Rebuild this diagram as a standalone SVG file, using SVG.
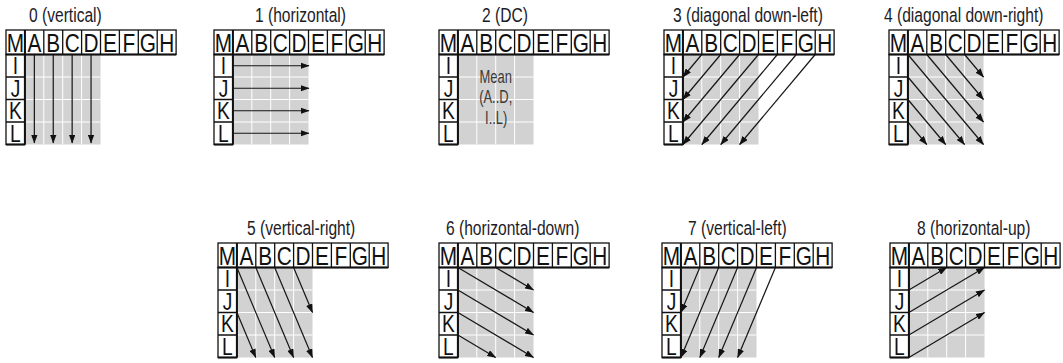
<svg xmlns="http://www.w3.org/2000/svg" width="1063" height="363" viewBox="0 0 1063 363">
<style>
.bg{fill:#fff}
.g{fill:#d2d2d2}
.wl{fill:none;stroke:#fff;stroke-width:1}
.cell{fill:#fff;stroke:#111;stroke-width:1.3}
.ln{fill:none;stroke:#111;stroke-width:1.3}
.thk{fill:none;stroke:#111;stroke-width:2}
.hd{font-family:"Liberation Sans",Arial,Helvetica,sans-serif;font-size:26px;fill:#111;text-anchor:middle}
.rl{font-family:"Liberation Sans",Arial,Helvetica,sans-serif;font-size:24px;fill:#111;text-anchor:middle}
.tt{font-family:"Liberation Sans",Arial,Helvetica,sans-serif;font-size:19.5px;fill:#1c1c28}
.mean{font-family:"Liberation Sans",Arial,Helvetica,sans-serif;font-size:18px;fill:#3a3a3a;text-anchor:middle}
.ar{fill:none;stroke:#151515;stroke-width:1.2;marker-end:url(#ah)}
</style>
<defs>
<marker id="ah" viewBox="0 0 9 6.6" refX="8.5" refY="3.3" markerWidth="9" markerHeight="6.6" markerUnits="userSpaceOnUse" orient="auto">
<path d="M0,0 L9,3.3 L0,6.6 Z" fill="#111"/>
</marker>
<g id="grid">
<rect class="g" x="18.9" y="24.5" width="75.6" height="90"/>
<path class="wl" d="M37.8 24.5V114.5M56.7 24.5V114.5M75.6 24.5V114.5M18.9 47H94.5M18.9 69.5H94.5M18.9 92H94.5"/>
<rect class="cell" x="0" y="0" width="170.1" height="24.5"/>
<rect class="cell" x="0" y="24.5" width="18.9" height="90"/>
<path class="ln" d="M18.9 0V24.5M37.8 0V24.5M56.7 0V24.5M75.6 0V24.5M94.5 0V24.5M113.4 0V24.5M132.3 0V24.5M151.2 0V24.5M0 47H18.9M0 69.5H18.9M0 92H18.9"/>
<path class="thk" d="M18.9 0V114.5M0 24.5H170.1M0 114.5H18.9"/>
</g>
</defs>
<rect class="bg" x="0" y="0" width="1063" height="363"/>

<g id="mode0" transform="translate(6,30)">
<use href="#grid"/>
<text class="tt" transform="translate(23,-8) scale(0.8 1)">0 (vertical)</text>
<text class="hd" transform="scale(0.8 1)" x="11.81 35.44 59.06 82.69 106.31 129.94 153.56 177.19 200.81" y="22">MABCDEFGH</text>
<text class="rl" transform="scale(0.8 1)" x="11.81 11.81 11.81 11.81" y="44.4 66.9 89.4 111.9">IJKL</text>
<g class="arrows">
<path class="ar" d="M28.35 24.5V113"/>
<path class="ar" d="M47.25 24.5V113"/>
<path class="ar" d="M66.15 24.5V113"/>
<path class="ar" d="M85.05 24.5V113"/>
</g>
</g>

<g id="mode1" transform="translate(214,30)">
<use href="#grid"/>
<text class="tt" transform="translate(41,-8) scale(0.8 1)">1 (horizontal)</text>
<text class="hd" transform="scale(0.8 1)" x="11.81 35.44 59.06 82.69 106.31 129.94 153.56 177.19 200.81" y="22">MABCDEFGH</text>
<text class="rl" transform="scale(0.8 1)" x="11.81 11.81 11.81 11.81" y="44.4 66.9 89.4 111.9">IJKL</text>
<g class="arrows">
<path class="ar" d="M18.9 35.75H95"/>
<path class="ar" d="M18.9 58.25H95"/>
<path class="ar" d="M18.9 80.75H95"/>
<path class="ar" d="M18.9 103.25H95"/>
</g>
</g>

<g id="mode2" transform="translate(439,30)">
<use href="#grid"/>
<text class="tt" transform="translate(43,-8) scale(0.8 1)">2 (DC)</text>
<text class="hd" transform="scale(0.8 1)" x="11.81 35.44 59.06 82.69 106.31 129.94 153.56 177.19 200.81" y="22">MABCDEFGH</text>
<text class="rl" transform="scale(0.8 1)" x="11.81 11.81 11.81 11.81" y="44.4 66.9 89.4 111.9">IJKL</text>
<text class="mean" transform="scale(0.72 1)" x="78.75" y="53.3">Mean</text>
<text class="mean" transform="scale(0.72 1)" x="78.75" y="73">(A..D,</text>
<text class="mean" transform="scale(0.72 1)" x="79.5" y="94.5">I..L)</text>
</g>

<g id="mode3" transform="translate(664,30)">
<use href="#grid"/>
<text class="tt" transform="translate(9,-8) scale(0.8 1)">3 (diagonal down-left)</text>
<text class="hd" transform="scale(0.8 1)" x="11.81 35.44 59.06 82.69 106.31 129.94 153.56 177.19 200.81" y="22">MABCDEFGH</text>
<text class="rl" transform="scale(0.8 1)" x="11.81 11.81 11.81 11.81" y="44.4 66.9 89.4 111.9">IJKL</text>
<g class="arrows">
<path class="ar" d="M37.8 24.5L18.9 47"/>
<path class="ar" d="M56.7 24.5L18.9 69.5"/>
<path class="ar" d="M75.6 24.5L18.9 92"/>
<path class="ar" d="M94.5 24.5L18.9 114.5"/>
<path class="ar" d="M113.4 24.5L37.8 114.5"/>
<path class="ar" d="M132.3 24.5L56.7 114.5"/>
<path class="ar" d="M151.2 24.5L75.6 114.5"/>
</g>
</g>

<g id="mode4" transform="translate(889,30)">
<use href="#grid"/>
<text class="tt" transform="translate(-5,-8) scale(0.8 1)">4 (diagonal down-right)</text>
<text class="hd" transform="scale(0.8 1)" x="11.81 35.44 59.06 82.69 106.31 129.94 153.56 177.19 200.81" y="22">MABCDEFGH</text>
<text class="rl" transform="scale(0.8 1)" x="11.81 11.81 11.81 11.81" y="44.4 66.9 89.4 111.9">IJKL</text>
<g class="arrows">
<path class="ar" d="M18.9 24.5L94.5 114.5"/>
<path class="ar" d="M37.8 24.5L94.5 92"/>
<path class="ar" d="M56.7 24.5L94.5 69.5"/>
<path class="ar" d="M75.6 24.5L94.5 47"/>
<path class="ar" d="M18.9 47L75.6 114.5"/>
<path class="ar" d="M18.9 69.5L56.7 114.5"/>
<path class="ar" d="M18.9 92L37.8 114.5"/>
</g>
</g>

<g id="mode5" transform="translate(218,243)">
<use href="#grid"/>
<text class="tt" transform="translate(29,-8) scale(0.8 1)">5 (vertical-right)</text>
<text class="hd" transform="scale(0.8 1)" x="11.81 35.44 59.06 82.69 106.31 129.94 153.56 177.19 200.81" y="22">MABCDEFGH</text>
<text class="rl" transform="scale(0.8 1)" x="11.81 11.81 11.81 11.81" y="44.4 66.9 89.4 111.9">IJKL</text>
<g class="arrows">
<path class="ar" d="M18.9 24.5L56.7 114.5"/>
<path class="ar" d="M37.8 24.5L75.6 114.5"/>
<path class="ar" d="M56.7 24.5L94.5 114.5"/>
<path class="ar" d="M75.6 24.5L94.5 69.5"/>
<path class="ar" d="M18.9 69.5L37.8 114.5"/>
</g>
</g>

<g id="mode6" transform="translate(439,243)">
<use href="#grid"/>
<text class="tt" transform="translate(7,-8) scale(0.8 1)">6 (horizontal-down)</text>
<text class="hd" transform="scale(0.8 1)" x="11.81 35.44 59.06 82.69 106.31 129.94 153.56 177.19 200.81" y="22">MABCDEFGH</text>
<text class="rl" transform="scale(0.8 1)" x="11.81 11.81 11.81 11.81" y="44.4 66.9 89.4 111.9">IJKL</text>
<g class="arrows">
<path class="ar" d="M18.9 24.5L94.5 69.5"/>
<path class="ar" d="M56.7 24.5L94.5 47"/>
<path class="ar" d="M18.9 47L94.5 92"/>
<path class="ar" d="M18.9 69.5L94.5 114.5"/>
<path class="ar" d="M18.9 92L56.7 114.5"/>
</g>
</g>

<g id="mode7" transform="translate(662,243)">
<use href="#grid"/>
<text class="tt" transform="translate(26,-8) scale(0.8 1)">7 (vertical-left)</text>
<text class="hd" transform="scale(0.8 1)" x="11.81 35.44 59.06 82.69 106.31 129.94 153.56 177.19 200.81" y="22">MABCDEFGH</text>
<text class="rl" transform="scale(0.8 1)" x="11.81 11.81 11.81 11.81" y="44.4 66.9 89.4 111.9">IJKL</text>
<g class="arrows">
<path class="ar" d="M37.8 24.5L18.9 69.5"/>
<path class="ar" d="M56.7 24.5L18.9 114.5"/>
<path class="ar" d="M75.6 24.5L37.8 114.5"/>
<path class="ar" d="M94.5 24.5L56.7 114.5"/>
<path class="ar" d="M113.4 24.5L75.6 114.5"/>
</g>
</g>

<g id="mode8" transform="translate(890,243)">
<use href="#grid"/>
<text class="tt" transform="translate(27,-8) scale(0.8 1)">8 (horizontal-up)</text>
<text class="hd" transform="scale(0.8 1)" x="11.81 35.44 59.06 82.69 106.31 129.94 153.56 177.19 200.81" y="22">MABCDEFGH</text>
<text class="rl" transform="scale(0.8 1)" x="11.81 11.81 11.81 11.81" y="44.4 66.9 89.4 111.9">IJKL</text>
<g class="arrows">
<path class="ar" d="M18.9 47L56.7 24.5"/>
<path class="ar" d="M18.9 69.5L94.5 24.5"/>
<path class="ar" d="M18.9 92L94.5 47"/>
<path class="ar" d="M18.9 114.5L94.5 69.5"/>
</g>
</g>
</svg>
